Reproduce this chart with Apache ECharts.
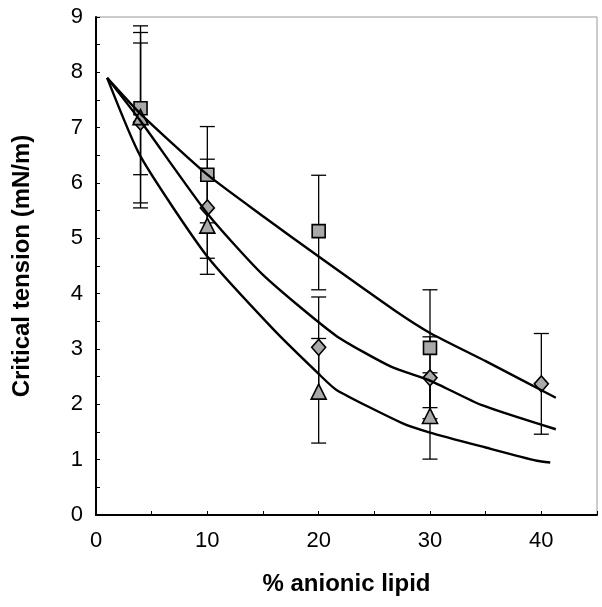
<!DOCTYPE html>
<html>
<head>
<meta charset="utf-8">
<script src="https://cdn.jsdelivr.net/npm/echarts@6/dist/echarts.min.js"></script>
<style>
html,body{margin:0;padding:0;background:#fff;}
#chart{width:602px;height:607px;}
</style>
</head>
<body>
<div id="chart"></div>
<script>
// Measured data (x = % anionic lipid)
var xs = [4, 10, 20, 30, 40];

var squareY    = [7.35, 6.15, 5.13, 3.02, null];
var squareLow  = [6.15, 5.28, 4.07, 1.94, null];
var squareHigh = [8.84, 7.02, 6.14, 4.07, null];

var diamondY    = [7.10, 5.55, 3.03, 2.48, 2.37];
var diamondLow  = [5.55, 4.64, 2.12, 1.74, 1.46];
var diamondHigh = [8.53, 6.43, 3.94, 3.22, 3.28];

var triangleY    = [7.19, 5.23, 2.23, 1.79, null];
var triangleLow  = [5.64, 4.35, 1.30, 1.01, null];
var triangleHigh = [8.72, 6.10, 3.19, 2.57, null];

// Fitted curves
var fitTopX = [1, 4, 10, 15, 20, 26.8, 30, 35, 41.3];
var fitTopY = [7.9, 7.25, 6.15, 5.4, 4.67, 3.7, 3.29, 2.78, 2.12];

var fitMidX = [1, 4, 10, 15, 21.5, 26.5, 30, 34.6, 41.3];
var fitMidY = [7.9, 7.12, 5.45, 4.34, 3.25, 2.68, 2.43, 1.99, 1.55];

var fitLowX = [1, 4, 10, 16, 20, 21.6, 27.5, 30, 35, 39.6, 40.8];
var fitLowY = [7.9, 6.48, 4.67, 3.34, 2.55, 2.26, 1.66, 1.49, 1.22, 0.98, 0.95];

var xTickLabels = ['0', '10', '20', '30', '40'];
var yTickLabels = ['0','1','2','3','4','5','6','7','8','9'];

function pairs(x, y) {
  var out = [];
  for (var i = 0; i < x.length; i++) if (y[i] != null) out.push([x[i], y[i]]);
  return out;
}
function errData(x, lo, hi) {
  var out = [];
  for (var i = 0; i < x.length; i++) if (lo[i] != null) out.push([x[i], lo[i], hi[i]]);
  return out;
}
function errSeries(data) {
  return {
    type: 'custom',
    z: 2,
    renderItem: function (params, api) {
      var x = api.value(0);
      var lo = api.coord([x, api.value(1)]);
      var hi = api.coord([x, api.value(2)]);
      var cw = 7.5;
      var st = { stroke: '#000', lineWidth: 1.3 };
      return {
        type: 'group',
        children: [
          { type: 'line', shape: { x1: lo[0], y1: lo[1], x2: hi[0], y2: hi[1] }, style: st },
          { type: 'line', shape: { x1: lo[0] - cw, y1: lo[1], x2: lo[0] + cw, y2: lo[1] }, style: st },
          { type: 'line', shape: { x1: hi[0] - cw, y1: hi[1], x2: hi[0] + cw, y2: hi[1] }, style: st }
        ]
      };
    },
    data: data,
    silent: true
  };
}
function lineSeries(x, y) {
  return {
    type: 'line',
    data: pairs(x, y),
    showSymbol: false,
    symbol: 'none',
    smooth: 0.2,
    z: 4,
    lineStyle: { color: '#000', width: 2.4 },
    silent: true
  };
}
function markerSeries(x, y, symbol, size) {
  return {
    type: 'scatter',
    data: pairs(x, y),
    symbol: symbol,
    symbolSize: size,
    z: 3,
    itemStyle: { color: '#a9a9a9', borderColor: '#000', borderWidth: 1.6, opacity: 1 },
    silent: true
  };
}

var chart = echarts.init(document.getElementById('chart'), null, { renderer: 'canvas' });
chart.setOption({
  animation: false,
  backgroundColor: '#fff',
  grid: { left: 96, right: 5, top: 17, bottom: 92, show: true, borderColor: '#999', borderWidth: 1 },
  xAxis: {
    type: 'value', min: 0, max: 45, interval: 5,
    name: '% anionic lipid',
    nameLocation: 'middle', nameGap: 57,
    nameTextStyle: { fontFamily: 'Liberation Sans', fontWeight: 'bold', fontSize: 24, color: '#000' },
    axisLine: { lineStyle: { color: '#000', width: 2 } },
    axisTick: { inside: true, length: 4, lineStyle: { color: '#000', width: 1 } },
    splitLine: { show: false },
    axisLabel: {
      margin: 15, fontFamily: 'Liberation Sans', fontSize: 22, color: '#000',
      formatter: function (v) { var i = xTickLabels.indexOf(String(v)); return i >= 0 ? xTickLabels[i] : ''; }
    }
  },
  yAxis: {
    type: 'value', min: 0, max: 9, interval: 0.5,
    name: 'Critical tension (mN/m)',
    nameLocation: 'middle', nameGap: 62,
    nameTextStyle: { fontFamily: 'Liberation Sans', fontWeight: 'bold', fontSize: 24, color: '#000' },
    axisLine: { lineStyle: { color: '#000', width: 2 } },
    axisTick: { inside: true, length: 4, lineStyle: { color: '#000', width: 1 } },
    splitLine: { show: false },
    axisLabel: {
      margin: 13, fontFamily: 'Liberation Sans', fontSize: 22, color: '#000',
      formatter: function (v) { var i = yTickLabels.indexOf(String(v)); return i >= 0 ? yTickLabels[i] : ''; }
    }
  },
  series: [
    errSeries(errData(xs, squareLow, squareHigh)),
    errSeries(errData(xs, diamondLow, diamondHigh)),
    errSeries(errData(xs, triangleLow, triangleHigh)),
    lineSeries(fitTopX, fitTopY),
    lineSeries(fitMidX, fitMidY),
    lineSeries(fitLowX, fitLowY),
    markerSeries(xs, squareY, 'rect', 13),
    markerSeries(xs, diamondY, 'diamond', [14, 16]),
    markerSeries(xs, triangleY, 'triangle', [15, 15])
  ]
});
</script>
</body>
</html>
